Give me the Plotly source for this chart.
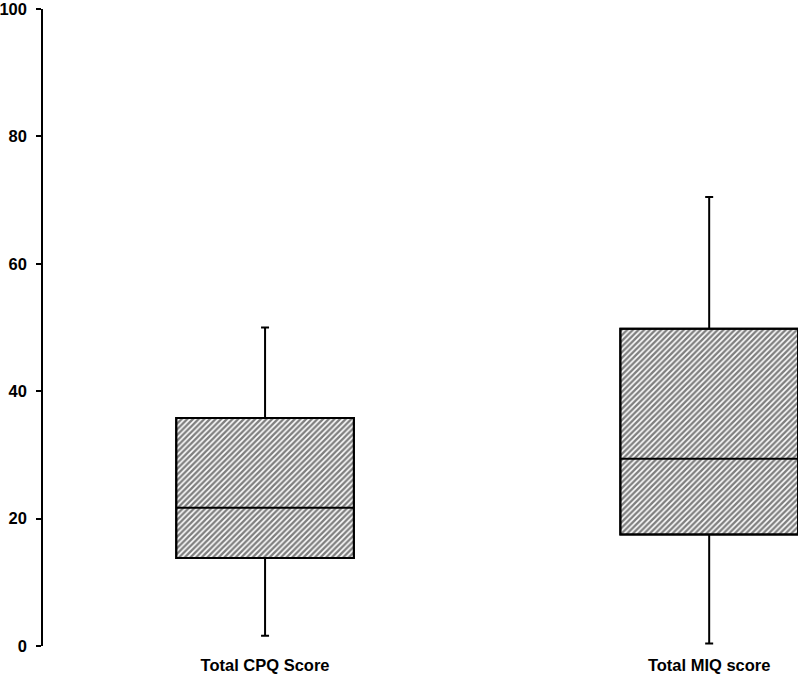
import plotly.graph_objects as go

categories = ["Total CPQ Score", "Total MIQ score"]
q1 = [13.8, 17.5]
median = [21.7, 29.4]
q3 = [35.8, 49.8]
lower_whisker = [1.6, 0.4]
upper_whisker = [50.0, 70.5]
y_ticks = [0, 20, 40, 60, 80, 100]

box_height = [b - a for a, b in zip(q1, q3)]

fig = go.Figure()
fig.add_trace(go.Bar(
    x=categories, y=box_height, base=q1, width=0.4,
    marker=dict(color="white", line=dict(color="black", width=2),
                pattern=dict(shape="/", fgcolor="black", bgcolor="white",
                             size=4, solidity=0.6)),
    showlegend=False, hoverinfo="skip",
))
fig.add_trace(go.Box(
    x=categories, q1=q1, median=median, q3=q3,
    lowerfence=lower_whisker, upperfence=upper_whisker,
    width=0.4, whiskerwidth=0.045,
    fillcolor="rgba(0,0,0,0)", line=dict(color="black", width=2),
    showlegend=False,
))

font = dict(family="Liberation Sans, Arial, sans-serif", size=16.5, color="black", weight="bold")
fig.update_layout(
    width=800, height=674,
    margin=dict(l=43, r=2, t=9, b=28),
    paper_bgcolor="white", plot_bgcolor="white",
    barmode="overlay", boxmode="overlay",
    xaxis=dict(range=[-0.5, 1.2], showline=False, showgrid=False, zeroline=False,
               ticks="", tickfont=font, ticklabelstandoff=7, automargin=False),
    yaxis=dict(range=[0, 100], tickvals=y_ticks, showline=True, linecolor="black",
               linewidth=1.5, ticks="outside", ticklen=5, tickcolor="black",
               tickwidth=1.5, showgrid=False, zeroline=False, tickfont=font,
               ticklabelstandoff=6, automargin=False, ticklabeloverflow="allow"),
)
fig.write_html("out.html", config={"displayModeBar": False},
               post_script="document.body.style.margin='0';")
